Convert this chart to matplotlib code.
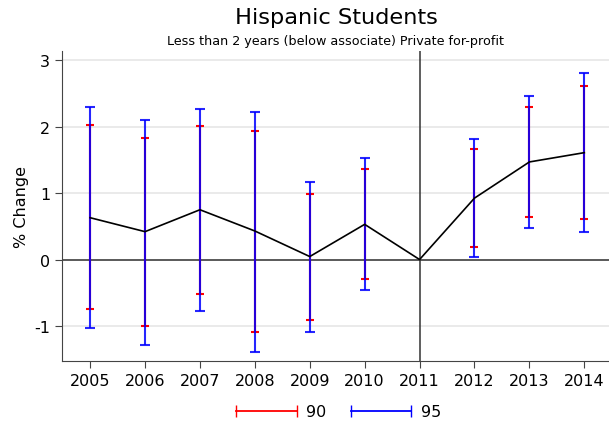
import matplotlib.pyplot as plt
from matplotlib.lines import Line2D

years = [2005, 2006, 2007, 2008, 2009, 2010, 2011, 2012, 2013, 2014]
estimate = [0.63, 0.42, 0.75, 0.43, 0.045, 0.53, 0.0, 0.925, 1.47, 1.61]

# confidence intervals (2011 is the reference year, no interval)
ci_years = [2005, 2006, 2007, 2008, 2009, 2010, 2012, 2013, 2014]
lo90 = [-0.75, -1.00, -0.52, -1.09, -0.905, -0.29, 0.19, 0.64, 0.61]
hi90 = [2.02, 1.825, 2.015, 1.93, 0.985, 1.36, 1.665, 2.30, 2.615]
lo95 = [-1.03, -1.28, -0.77, -1.39, -1.09, -0.46, 0.045, 0.48, 0.42]
hi95 = [2.30, 2.105, 2.27, 2.225, 1.17, 1.53, 1.815, 2.46, 2.81]

ci_mid = [estimate[years.index(y)] for y in ci_years]

fig = plt.figure(figsize=(6.09, 4.27), dpi=100)
ax = fig.add_axes([0.102, 0.152, 0.898, 0.726])

ax.set_ylim(-1.53, 3.14)
ax.set_xlim(2004.49, 2014.45)
ax.set_yticks([-1, 0, 1, 2, 3])
ax.set_yticklabels(['-1', '0', '1', '2', '3'])
ax.set_xticks(years)
ax.grid(axis='y', color='#e6e6e6', lw=1.2)
ax.set_axisbelow(True)

ax.axhline(0, color='#333333', lw=1.1, zorder=2)
ax.axvline(2011, color='#333333', lw=1.1, zorder=2)

ax.errorbar(ci_years, ci_mid,
            yerr=[[m - l for m, l in zip(ci_mid, lo90)], [h - m for m, h in zip(ci_mid, hi90)]],
            fmt='none', ecolor='red', elinewidth=1.5, capsize=3.2, capthick=1.5, zorder=3)
ax.errorbar(ci_years, ci_mid,
            yerr=[[m - l for m, l in zip(ci_mid, lo95)], [h - m for m, h in zip(ci_mid, hi95)]],
            fmt='none', ecolor='blue', elinewidth=1.5, capsize=3.6, capthick=1.5, alpha=0.85, zorder=4)

ax.plot(years, estimate, color='black', lw=1.2, zorder=5)

for s in ['top', 'right']:
    ax.spines[s].set_visible(False)
for s in ['left', 'bottom']:
    ax.spines[s].set_color('#444444')
ax.tick_params(labelsize=11.5, length=5, color='#444444')
ax.set_ylabel('% Change', fontsize=11.5)

fig.text(0.553, 0.957, 'Hispanic Students', ha='center', va='center', fontsize=16.2)
fig.text(0.551, 0.903, 'Less than 2 years (below associate) Private for-profit',
         ha='center', va='center', fontsize=9.2)

handles = [Line2D([], [], color='red', marker='|', markersize=8, lw=1.3),
           Line2D([], [], color='blue', marker='|', markersize=8, lw=1.3)]
fig.legend(handles, ['90', '95'], loc='center', bbox_to_anchor=(0.552, 0.033),
           ncol=2, frameon=False, numpoints=2, handlelength=4.4,
           fontsize=11.5, columnspacing=1.2, handletextpad=0.3)

plt.savefig('out.png', dpi=100)
